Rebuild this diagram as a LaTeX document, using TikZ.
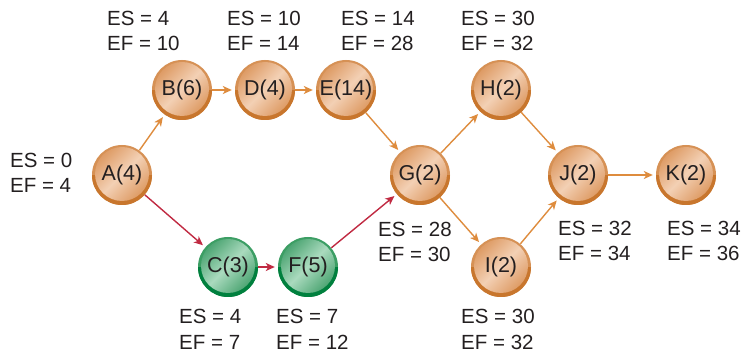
\documentclass[tikz,border=0pt]{standalone}
\usepackage{fontspec}
\setmainfont{Liberation Sans}
\usetikzlibrary{arrows.meta,calc}
\definecolor{txt}{RGB}{35,31,32}
\definecolor{orim}{RGB}{214,145,85}
\definecolor{odark}{RGB}{200,118,45}
\definecolor{obase}{RGB}{222,156,102}
\definecolor{olight}{RGB}{243,208,180}
\definecolor{grim}{RGB}{60,158,100}
\definecolor{gdark}{RGB}{0,128,62}
\definecolor{gbase}{RGB}{78,166,116}
\definecolor{glight}{RGB}{170,218,190}
\definecolor{oarrow}{RGB}{222,140,62}
\definecolor{rarrow}{RGB}{192,42,66}
\begin{document}
\begin{tikzpicture}[x=1pt,y=-1pt,
  proc/.style={circle, minimum size=60pt, inner sep=0pt, font=\fontsize{21.5}{21.5}\selectfont, text=txt},
  onode/.style={proc, fill=orim, path picture={
    \fill[odark] ([xshift=-32pt]path picture bounding box.center) rectangle ([xshift=32pt,yshift=-32pt]path picture bounding box.center);
    \shade[left color=obase,right color=obase,middle color=olight,shading angle=45] ([yshift=1pt]path picture bounding box.center) circle[radius=27pt];
  }},
  gnode/.style={proc, fill=grim, path picture={
    \fill[gdark] ([xshift=-32pt]path picture bounding box.center) rectangle ([xshift=32pt,yshift=-32pt]path picture bounding box.center);
    \shade[left color=gbase,right color=gbase,middle color=glight,shading angle=45] ([yshift=1pt]path picture bounding box.center) circle[radius=27pt];
  }},
  lbl/.style={anchor=base west, inner sep=0pt, font=\fontsize{20.5}{20.5}\selectfont, text=txt},
  conn/.style={-{Stealth[length=9pt,width=8pt,inset=2.5pt]}, line width=1.4pt, shorten >=3pt},
  oconn/.style={conn, draw=oarrow},
  rconn/.style={conn, draw=rarrow}
]
\useasboundingbox (0,0) rectangle (744,352);

\node[onode] (A) at (122,175) {A(4)};
\node[onode] (B) at (182,90) {B(6)};
\node[onode] (D) at (265,90) {D(4)};
\node[onode] (E) at (346,90) {E(14)};
\node[onode] (G) at (420,175) {G(2)};
\node[onode] (H) at (501,90) {H(2)};
\node[onode] (I) at (501,267) {I(2)};
\node[onode] (J) at (578,175) {J(2)};
\node[onode] (K) at (686,175) {K(2)};
\node[gnode] (C) at (228,267) {C(3)};
\node[gnode] (F) at (308,267) {F(5)};

\draw[oconn] (A) -- (B);
\draw[oconn] (B) -- (D);
\draw[oconn] (D) -- (E);
\draw[oconn] (E) -- (G);
\draw[oconn] (G) -- (H);
\draw[oconn] (G) -- (I);
\draw[oconn] (H) -- (J);
\draw[oconn] (I) -- (J);
\draw[oconn] (J) -- (K);
\draw[rconn] (A) -- (C);
\draw[rconn] (C) -- (F);
\draw[rconn] (F) -- (G);

\node[lbl] (esA) at (10,168) {ES = 0};
\node[lbl] (efA) at (10,193) {EF = 4};
\node[lbl] (esB) at (107,26) {ES = 4};
\node[lbl] (efB) at (107,51) {EF = 10};
\node[lbl] (esD) at (227,26) {ES = 10};
\node[lbl] (efD) at (227,51) {EF = 14};
\node[lbl] (esE) at (341,26) {ES = 14};
\node[lbl] (efE) at (341,51) {EF = 28};
\node[lbl] (esH) at (461,26) {ES = 30};
\node[lbl] (efH) at (461,51) {EF = 32};
\node[lbl] (esG) at (378,237) {ES = 28};
\node[lbl] (efG) at (378,262) {EF = 30};
\node[lbl] (esJ) at (558,236) {ES = 32};
\node[lbl] (efJ) at (558,261) {EF = 34};
\node[lbl] (esK) at (667,236) {ES = 34};
\node[lbl] (efK) at (667,261) {EF = 36};
\node[lbl] (esC) at (179,324) {ES = 4};
\node[lbl] (efC) at (179,349) {EF = 7};
\node[lbl] (esF) at (276,324) {ES = 7};
\node[lbl] (efF) at (276,349) {EF = 12};
\node[lbl] (esI) at (461,324) {ES = 30};
\node[lbl] (efI) at (461,349) {EF = 32};
\end{tikzpicture}
\end{document}
